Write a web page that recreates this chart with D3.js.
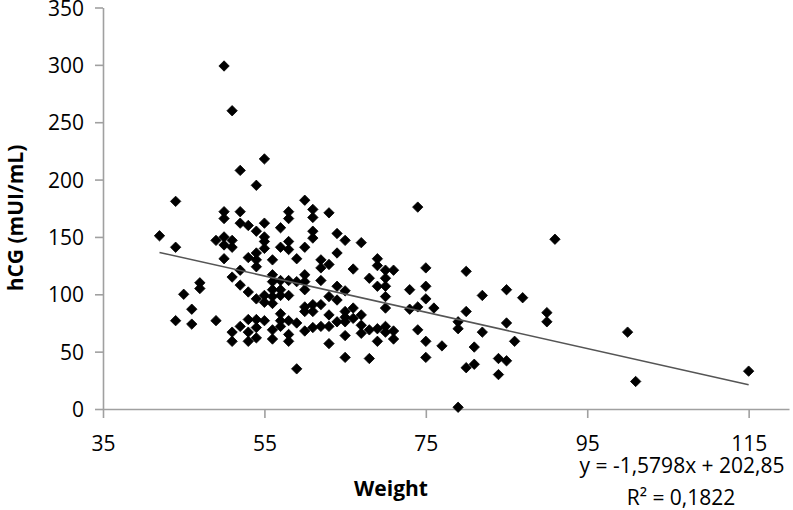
<!DOCTYPE html>
<html>
<head>
<meta charset="utf-8">
<script src="https://cdn.jsdelivr.net/npm/d3@7"></script>
<style>
  html, body { margin: 0; padding: 0; background: #fff; }
  svg { display: block; }
  text { font-family: "Open Sans", "Liberation Sans", sans-serif; fill: #000; }
</style>
</head>
<body>
<svg id="chart" width="793" height="510"></svg>
<script>
// ---- data ----
const weight = [
  42,
  44,44,44,
  45,
  46,46,
  47,47,
  49,49,
  50,50,50,50,50,50,
  51,51,51,51,51,51,
  52,52,52,52,52,52,
  53,53,53,53,53,53,
  54,54,54,54,54,54,54,54,54,
  55,55,55,55,55,55,55,55,
  56,56,56,56,56,56,56,56,
  57,57,57,57,57,57,57,57,
  58,58,58,58,58,58,58,58,58,
  59,59,59,59,
  60,60,60,60,60,60,60,60,
  61,61,61,61,61,61,61,
  62,62,62,62,62,
  63,63,63,63,63,63,
  64,64,64,64,64,
  65,65,65,65,65,65,65,
  66,66,66,
  67,67,67,67,
  68,68,68,
  69,69,69,69,69,
  70,70,70,70,70,70,70,
  71,71,71,
  73,73,
  74,74,74,
  75,75,75,75,75,
  76,
  77,
  79,79,79,
  80,80,80,
  81,81,
  82,82,
  84,84,
  85,85,85,
  86,
  87,
  90,90,
  91,
  100,
  101,
  115
];
const hcg = [
  151,
  181,141,77,
  100,
  87,74,
  110,105,
  77,147,
  299,172,166,150,143,131,
  260,147,141,115,67,59,
  208,172,162,121,108,72,
  160,132,102,78,67,59,
  195,155,136,130,124,96,78,71,62,
  218,162,150,146,140,99,93,77,
  130,117,111,104,98,92,69,61,
  158,141,112,104,99,83,77,72,
  172,166,146,139,112,99,77,65,59,
  131,111,75,35,
  182,141,117,111,104,89,85,68,
  174,167,155,149,91,85,71,
  130,123,112,91,72,
  171,126,98,82,72,57,
  153,136,107,95,76,
  147,103,85,80,76,64,45,
  122,88,79,
  145,82,73,66,
  114,69,44,
  131,125,107,70,59,
  121,114,107,98,88,72,67,
  121,68,61,
  104,87,
  176,89,69,
  123,107,96,59,45,
  88,
  55,
  76,70,1.5,
  120,85,36,
  54,39,
  99,67,
  44,30,
  104,75,42,
  59,
  97,
  84,76,
  148,
  67,
  24,
  33
];
const xTicks = [35, 55, 75, 95, 115];
const yTicks = [0, 50, 100, 150, 200, 250, 300, 350];
const trendSlope = -1.5798;
const trendIntercept = 202.85;
const equationLines = ["y = -1,5798x + 202,85", "R² = 0,1822"];
const xTitle = "Weight";
const yTitle = "hCG (mUI/mL)";

// ---- drawing ----
const svg = d3.select("#chart");
const x = d3.scaleLinear().domain([35, 120]).range([103, 789]);
const y = d3.scaleLinear().domain([0, 350]).range([409, 7.5]);
const axisColor = "#a0a0a0";
const fs = 21;

// y axis
const gy = svg.append("g").attr("transform", `translate(${x(35)},0)`)
  .call(d3.axisLeft(y).tickValues(yTicks).tickSize(8).tickSizeOuter(0).tickPadding(11));
gy.select(".domain").attr("stroke", axisColor).attr("stroke-width", 1.6);
gy.selectAll(".tick line").attr("stroke", axisColor).attr("stroke-width", 1.6);
gy.selectAll(".tick text").attr("font-size", fs).attr("fill", "#000")
  .attr("font-family", "Open Sans").attr("dy", "0.36em");

// x axis
const gx = svg.append("g").attr("transform", `translate(0,${y(0)})`)
  .call(d3.axisBottom(x).tickValues(xTicks).tickSize(9).tickSizeOuter(0).tickPadding(0));
gx.select(".domain").attr("stroke", axisColor).attr("stroke-width", 1.6);
gx.selectAll(".tick line").attr("stroke", axisColor).attr("stroke-width", 1.6);
gx.selectAll(".tick text").attr("font-size", fs).attr("fill", "#000")
  .attr("font-family", "Open Sans").attr("y", 42).attr("dy", 0);

// points (diamonds)
const r = 5.2;
svg.append("g").selectAll("path").data(weight.map((w, i) => [w, hcg[i]])).join("path")
  .attr("d", d => {
    const cx = x(d[0]), cy = y(d[1]);
    return `M${cx},${cy - r}L${cx + r},${cy}L${cx},${cy + r}L${cx - r},${cy}Z`;
  })
  .attr("fill", "#000").attr("stroke", "#000").attr("stroke-width", 0.8)
  .attr("stroke-linejoin", "round");

// trend line
const xMin = d3.min(weight), xMax = d3.max(weight);
svg.append("line")
  .attr("x1", x(xMin)).attr("y1", y(trendSlope * xMin + trendIntercept))
  .attr("x2", x(xMax)).attr("y2", y(trendSlope * xMax + trendIntercept))
  .attr("stroke", "#555").attr("stroke-width", 1.5);

// equation
svg.append("text").attr("x", 682).attr("y", 473).attr("text-anchor", "middle")
  .attr("font-size", fs).text(equationLines[0]);
svg.append("text").attr("x", 681).attr("y", 505).attr("text-anchor", "middle")
  .attr("font-size", fs).text(equationLines[1]);

// axis titles
svg.append("text").attr("x", 391).attr("y", 496).attr("text-anchor", "middle")
  .attr("font-size", fs).attr("font-weight", "bold").text(xTitle);
svg.append("text").attr("transform", "translate(23,218) rotate(-90)")
  .attr("text-anchor", "middle").attr("font-size", fs).attr("font-weight", "bold")
  .text(yTitle);
</script>
</body>
</html>
